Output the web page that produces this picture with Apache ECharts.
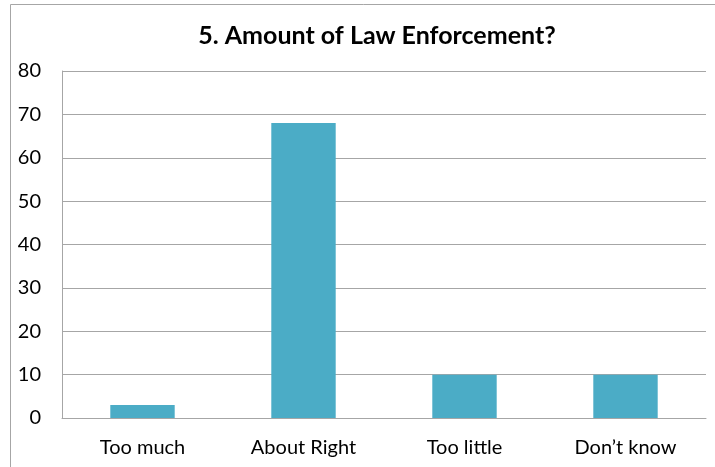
<!DOCTYPE html>
<html><head><meta charset="utf-8">
<script src="https://cdn.jsdelivr.net/npm/echarts@6/dist/echarts.min.js"></script>
<style>html,body{margin:0;padding:0;background:#fff}#c{width:715px;height:467px}</style>
</head><body><div id="c"></div>
<script>
var categories = ["Too much", "About Right", "Too little", "Don\u2019t know"];
var values = [3, 68, 10, 10];
var yTicks = [0, 10, 20, 30, 40, 50, 60, 70, 80];

var chart = echarts.init(document.getElementById('c'), null, {renderer: 'canvas'});
chart.setOption({
  animation: false,
  backgroundColor: '#fff',
  title: {
    text: '5. Amount of Law Enforcement?',
    left: 372, top: 18, textAlign: 'center',
    textStyle: {fontFamily: 'Lato', fontWeight: 'bold', fontSize: 25, color: '#000'}
  },
  graphic: [{
    type: 'rect', shape: {x: 10.5, y: 4.5, width: 900, height: 700},
    style: {fill: 'none', stroke: '#a6a6a6', lineWidth: 1}, z: -1
  }],
  grid: {left: 62, right: 9, top: 71, bottom: 49},
  xAxis: {
    type: 'category', data: categories,
    axisLine: {show: true, lineStyle: {color: '#a6a6a6', width: 1}},
    axisTick: {show: false},
    axisLabel: {fontFamily: 'Lato', fontSize: 20, color: '#000', margin: 20}
  },
  yAxis: {
    type: 'value', min: yTicks[0], max: yTicks[yTicks.length - 1], interval: 10,
    axisLine: {show: true, lineStyle: {color: '#a6a6a6', width: 1}},
    axisTick: {show: false},
    splitLine: {lineStyle: {color: '#a6a6a6', width: 1}},
    axisLabel: {fontFamily: 'Lato', fontSize: 20, color: '#000', margin: 21}
  },
  series: [{
    type: 'bar', data: values, barWidth: '40%',
    itemStyle: {color: '#4BACC6'}
  }]
});
</script></body></html>
